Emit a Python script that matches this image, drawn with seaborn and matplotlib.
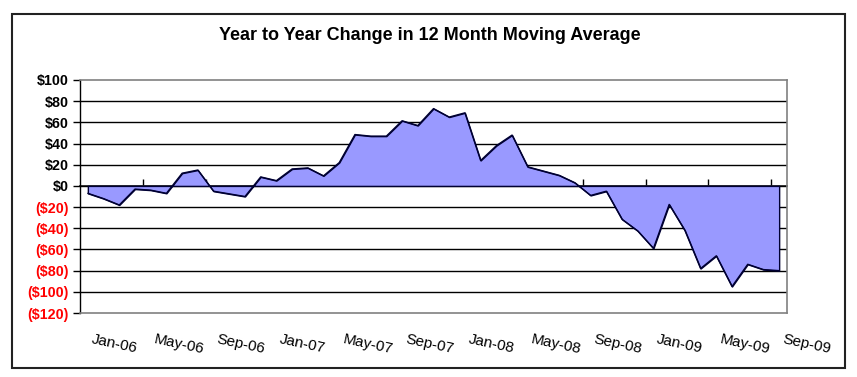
import matplotlib
matplotlib.use("Agg")
import matplotlib.pyplot as plt
import matplotlib.transforms as mtransforms
import seaborn as sns
import numpy as np
import pandas as pd
from matplotlib.patches import Rectangle

title = "Year to Year Change in 12 Month Moving Average"
months = pd.date_range("2006-01-01", periods=45, freq="MS").strftime("%b-%y").tolist()
values = [-7, -12, -18, -3, -4, -7, 12, 15, -5, -7.5, -10, 8.5, 5, 16, 17, 9.5,
          22, 48.5, 47, 47, 61.5, 57, 73, 65, 69, 24, 38, 48, 18, 14, 10, 3,
          -9, -5, -31.5, -42.5, -59, -17.5, -42, -78, -66, -95, -74, -79, -80]
xtick_labels = ["Jan-06", "May-06", "Sep-06", "Jan-07", "May-07", "Sep-07",
                "Jan-08", "May-08", "Sep-08", "Jan-09", "May-09", "Sep-09"]
ytick_values = [100, 80, 60, 40, 20, 0, -20, -40, -60, -80, -100, -120]

sns.set_theme(style="white")
plt.rcParams["font.family"] = ["Liberation Sans", "DejaVu Sans"]

df = pd.DataFrame({"idx": np.arange(len(values)), "value": values, "month": months})

fig = plt.figure(figsize=(8.57, 3.77), dpi=100)
ax = fig.add_axes([80/857, 1-313/377, (787-80)/857, (313-80)/377])

ax.fill_between(df["idx"], 0, df["value"], facecolor="#9999FF", edgecolor="#000033",
                linewidth=1.0, zorder=3)
sns.lineplot(data=df, x="idx", y="value", color="#000033", linewidth=1.0, ax=ax, zorder=4)

ax.set_xlim(-0.5, len(values) - 0.5)
ax.set_ylim(min(ytick_values), max(ytick_values))

# gridlines
for v in ytick_values[1:-1]:
    ax.axhline(v, color="black", linewidth=1.0, zorder=2)

# y ticks
ax.set_yticks(ytick_values)
ylabels = [f"${v}" if v >= 0 else f"(${-v})" for v in ytick_values]
ax.set_yticklabels(ylabels, fontsize=10.3, fontweight="bold")
for lab, v in zip(ax.get_yticklabels(), ytick_values):
    lab.set_color("black" if v >= 0 else "#FF0000")
ax.tick_params(axis="y", direction="out", length=5, width=1, color="black", pad=3, left=True)

# x labels at bottom (category centres); Sep-09 lies one step past the data
pos = []
for m in xtick_labels:
    if m in months:
        pos.append(months.index(m))
    else:
        pos.append(pos[-1] + 4)
ax.set_xticks(pos)
ax.set_xticklabels(xtick_labels, fontsize=11, rotation=-12, ha="left",
                   rotation_mode="anchor", color="black")
ax.tick_params(axis="x", length=0, pad=14)
offset = mtransforms.ScaledTranslation(5/100, 0, fig.dpi_scale_trans)
for lab in ax.get_xticklabels():
    lab.set_transform(lab.get_transform() + offset)
ax.set_xlim(-0.5, len(values) - 0.5)

# category-axis tick marks on the zero line
ylo, yhi = ax.get_ylim()
sec = ax.secondary_xaxis((0 - ylo) / (yhi - ylo))
sec.set_xticks([b - 0.5 for b in range(4, len(values) + 1, 4)])
sec.set_xticklabels([])
sec.tick_params(direction="out", length=5, width=1, color="black")
sec.spines["bottom"].set_color("black")
sec.spines["bottom"].set_linewidth(1.0)

ax.set_xlabel("")
ax.set_ylabel("")

for s in ["top", "right", "bottom"]:
    ax.spines[s].set_color("#808080")
    ax.spines[s].set_linewidth(1.2)
ax.spines["left"].set_color("black")
ax.spines["left"].set_linewidth(1.0)

fig.text(430/857, 1-35/377, title, ha="center", va="center", fontsize=13,
         fontweight="bold", color="black")

fig.patches.append(Rectangle((12/857, 9/377), 833/857, 354/377, transform=fig.transFigure,
                             fill=False, edgecolor="#222222", linewidth=1.5))

fig.savefig("out.png", dpi=100)
